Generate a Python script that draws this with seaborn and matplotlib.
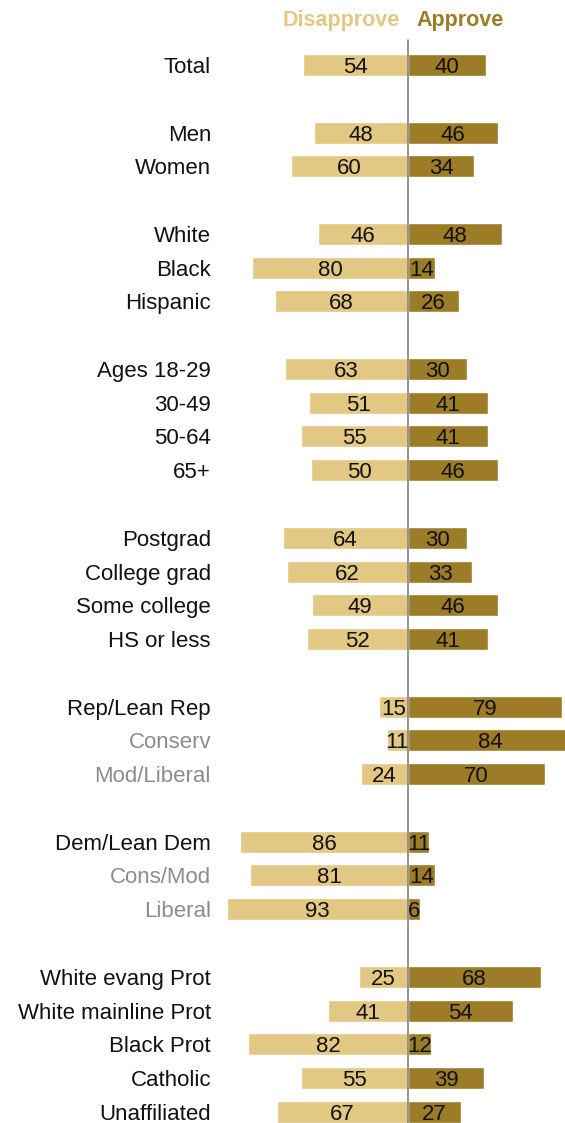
import numpy as np
import pandas as pd
import seaborn as sns
from matplotlib import pyplot as plt

GROUPS = [
    "Total",
    "Men", "Women",
    "White", "Black", "Hispanic",
    "Ages 18-29", "30-49", "50-64", "65+",
    "Postgrad", "College grad", "Some college", "HS or less",
    "Rep/Lean Rep", "Conserv", "Mod/Liberal",
    "Dem/Lean Dem", "Cons/Mod", "Liberal",
    "White evang Prot", "White mainline Prot", "Black Prot", "Catholic", "Unaffiliated",
]
DISAPPROVE = [54, 48, 60, 46, 80, 68, 63, 51, 55, 50, 64, 62, 49, 52,
              15, 11, 24, 86, 81, 93, 25, 41, 82, 55, 67]
APPROVE = [40, 46, 34, 48, 14, 26, 30, 41, 41, 46, 30, 33, 46, 41,
           79, 84, 70, 11, 14, 6, 68, 54, 12, 39, 27]
# row slot of each group (blank slots separate the blocks)
ROWS = [0, 2, 3, 5, 6, 7, 9, 10, 11, 12, 14, 15, 16, 17,
        19, 20, 21, 23, 24, 25, 27, 28, 29, 30, 31]
SUBGROUPS = ["Conserv", "Mod/Liberal", "Cons/Mod", "Liberal"]

C_DIS = "#E2C882"
C_APP = "#9C7C26"

df = pd.DataFrame({"group": GROUPS, "row": ROWS,
                   "disapprove": DISAPPROVE, "approve": APPROVE})
df["dis_neg"] = -df["disapprove"]

sns.set_style("white")
plt.rcParams["font.family"] = ["Liberation Sans", "DejaVu Sans"]

fig = plt.figure(figsize=(5.65, 11.23), dpi=100)
ax = fig.add_axes([215 / 565, 0, 1 - 215 / 565, 1])

sns.barplot(data=df, x="dis_neg", y="row", orient="h", native_scale=True,
            color=C_DIS, width=0.65, saturation=1, ax=ax)
sns.barplot(data=df, x="approve", y="row", orient="h", native_scale=True,
            color=C_APP, width=0.65, saturation=1, ax=ax)

ax.set_xlim(-99, 80.5)
ax.set_ylim(31.33, -1.925)
ax.axis("off")

ax.plot([0, 0], [-0.75, 31.33], color="#8a8a8a", lw=1.3, zorder=5)

for _, r in df.iterrows():
    ax.text(-r["disapprove"] / 2, r["row"], str(r["disapprove"]),
            ha="center", va="center_baseline", fontsize=16, color="#111111", zorder=6)
    ax.text(r["approve"] / 2, r["row"], str(r["approve"]),
            ha="center", va="center_baseline", fontsize=16, color="#111111", zorder=6)
    ax.text(211 / 565, 1 - (65 + r["row"] * 33.77) / 1123, r["group"],
            transform=fig.transFigure, ha="right", va="center_baseline", fontsize=16,
            color="#8c8c8c" if r["group"] in SUBGROUPS else "#111111")

ax.text(-4, -1.39, "Disapprove", ha="right", va="center_baseline", fontsize=15.5,
        fontweight="bold", color=C_DIS)
ax.text(4.5, -1.39, "Approve", ha="left", va="center_baseline", fontsize=15.5,
        fontweight="bold", color=C_APP)

fig.savefig("out.png", dpi=100)
